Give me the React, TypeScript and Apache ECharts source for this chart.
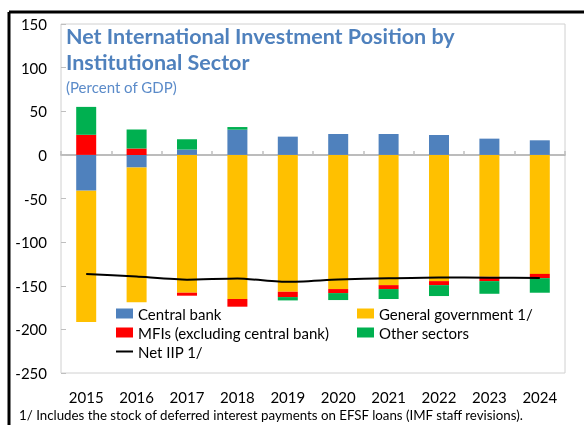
import React, { useEffect, useRef } from "react";
import * as echarts from "echarts";

const years = ["2015", "2016", "2017", "2018", "2019", "2020", "2021", "2022", "2023", "2024"];
const centralBank = [-41, -14.4, 6.1, 28.9, 20.9, 23.9, 23.9, 22.8, 18.6, 16.7];
const generalGov = [-150.5, -154.6, -158, -165.2, -156.9, -153.8, -149.3, -144.7, -139.8, -136.4];
const mfis = [23, 7.2, -3.4, -8.8, -6.1, -4.6, -4.5, -4.6, -4.9, -4.9];
const otherSectors = [32, 22, 11.8, 3, -3.8, -8, -11.4, -12.5, -14.5, -16.7];
const netIIP = [-136.4, -139.5, -143, -141.7, -145.5, -142.8, -141.5, -140.5, -140.8, -141];

const FONT = "Lato";

export default function App() {
  const ref = useRef<HTMLDivElement>(null);
  useEffect(() => {
    if (!ref.current) return;
    const chart = echarts.init(ref.current, null, { renderer: "svg" });
    const bar = (name: string, data: number[], color: string) => ({
      name,
      type: "bar",
      stack: "a",
      data,
      barWidth: 20,
      itemStyle: { color },
      xAxisIndex: 0,
      yAxisIndex: 0,
    });
    chart.setOption({
      animation: false,
      textStyle: { fontFamily: FONT },
      title: {
        text: "Net International Investment Position by\nInstitutional Sector",
        subtext: "(Percent of GDP)",
        left: 66,
        top: 23,
        padding: 0,
        itemGap: 3,
        textStyle: { fontFamily: FONT, fontSize: 21.5, fontWeight: "bold", color: "#4f81bd", lineHeight: 26 },
        subtextStyle: { fontFamily: FONT, fontSize: 15, color: "#5b8bc9", lineHeight: 17 },
      },
      grid: {
        left: 61,
        right: 19,
        top: 24,
        bottom: 52,
        show: true,
        borderColor: "#d0d0d0",
        borderWidth: 1,
        backgroundColor: "transparent",
      },
      legend: [
        {
          left: 115,
          top: 306,
          orient: "vertical",
          padding: 0,
          itemGap: 4,
          itemWidth: 17,
          itemHeight: 10,
          textStyle: { fontFamily: FONT, fontSize: 15, color: "#000", lineHeight: 15 },
          data: [
            { name: "Central bank", icon: "rect" },
            { name: "MFIs (excluding central bank)", icon: "rect" },
            { name: "Net IIP 1/", itemStyle: { opacity: 0 } },
          ],
        },
        {
          left: 357,
          top: 306,
          orient: "vertical",
          padding: 0,
          itemGap: 4,
          itemWidth: 17,
          itemHeight: 10,
          textStyle: { fontFamily: FONT, fontSize: 15, color: "#000", lineHeight: 15 },
          data: [
            { name: "General government 1/", icon: "rect" },
            { name: "Other sectors", icon: "rect" },
          ],
        },
      ],
      xAxis: [
        {
          type: "category",
          data: years,
          position: "bottom",
          axisLine: { show: false, onZero: false },
          axisTick: { show: false },
          axisLabel: { fontFamily: FONT, fontSize: 15, color: "#000", margin: 16 },
        },
        {
          type: "category",
          data: years,
          position: "bottom",
          axisLine: { show: true, onZero: true, lineStyle: { color: "#a6a6a6", width: 1.5 } },
          axisTick: { show: true, inside: true, length: 4, lineStyle: { color: "#bfbfbf", width: 1.5 } },
          axisLabel: { show: false },
          splitLine: { show: false },
        },
      ],
      yAxis: {
        type: "value",
        min: -250,
        max: 150,
        interval: 50,
        axisLine: { show: false },
        axisTick: { show: true, inside: true, length: 5, lineStyle: { color: "#bfbfbf" } },
        splitLine: { show: false },
        axisLabel: { fontFamily: FONT, fontSize: 15, color: "#000", margin: 14 },
      },
      graphic: [
        { type: "line", shape: { x1: 9, y1: 12, x2: 584, y2: 12 }, style: { stroke: "#000", lineWidth: 3 } },
        { type: "line", shape: { x1: 9, y1: 12, x2: 9, y2: 425 }, style: { stroke: "#000", lineWidth: 3 } },
        {
          type: "text",
          left: 19,
          top: 408,
          style: {
            text: "1/ Includes the stock of deferred interest payments on EFSF loans (IMF staff revisions).",
            fontFamily: FONT,
            fontSize: 13.3,
            fill: "#000",
          },
        },
      ],
      series: [
        bar("Central bank", centralBank, "#4f81bd"),
        bar("General government 1/", generalGov, "#ffc000"),
        bar("MFIs (excluding central bank)", mfis, "#ff0000"),
        bar("Other sectors", otherSectors, "#00b050"),
        {
          name: "Net IIP 1/",
          type: "line",
          data: netIIP,
          symbol: "none",
          smooth: 0.2,
          lineStyle: { color: "#000", width: 2 },
          itemStyle: { color: "#000" },
          z: 5,
        },
      ],
    });
    return () => chart.dispose();
  }, []);
  return <div ref={ref} style={{ position: "fixed", left: 0, top: 0, width: 584, height: 425 }} />;
}
